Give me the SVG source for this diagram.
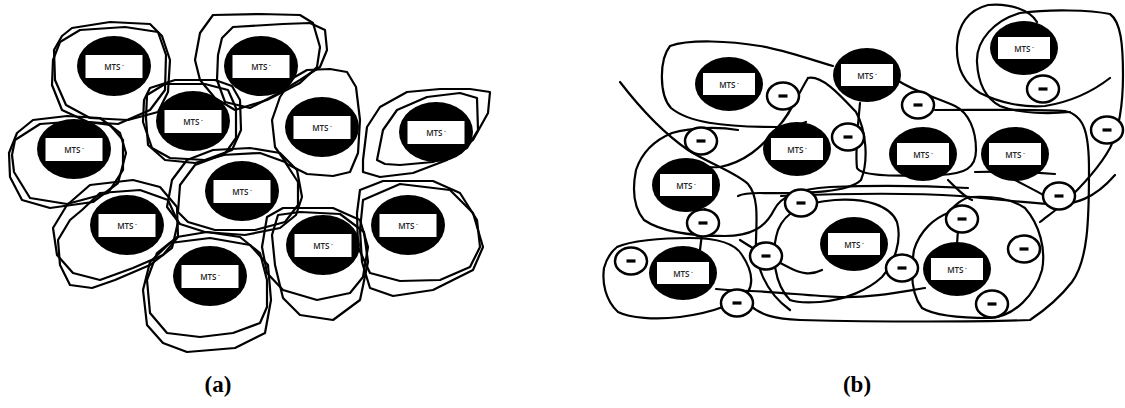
<svg xmlns="http://www.w3.org/2000/svg" width="1125" height="408" viewBox="0 0 1125 408">
<style>
.ln{fill:none;stroke:#000;stroke-width:2.2;stroke-linejoin:round;stroke-linecap:round}
.core{fill:#000}
.box{fill:#fff}
.t{font-family:"Open Sans","Liberation Sans",sans-serif;font-size:8px;font-weight:600;fill:#222;text-anchor:middle}
.sup{font-size:6px}
.an{fill:#fff;stroke:#000;stroke-width:2.5}
.dash{fill:#000}
.lab{font-family:"Liberation Serif",serif;font-size:23px;font-weight:bold;fill:#000;text-anchor:middle}
</style>
<defs>
<g id="mtsA"><ellipse class="core" cx="0" cy="0" rx="37" ry="30"/><rect class="box" x="-28.5" y="-11" width="57" height="23"/><text class="t" x="0" y="3.5">MTS<tspan class="sup" dx="1.5" dy="-2.5">-</tspan></text></g>
<g id="mtsB"><ellipse class="core" cx="0" cy="0" rx="34" ry="27"/><rect class="box" x="-26" y="-11" width="52" height="22"/><text class="t" x="0" y="3.5">MTS<tspan class="sup" dx="1.5" dy="-2.5">-</tspan></text></g>
<g id="anion"><ellipse class="an" cx="0" cy="0" rx="16" ry="13.5"/><rect class="dash" x="-4.5" y="-1.6" width="9" height="3.2"/></g>
</defs>
<rect width="1125" height="408" fill="#fff"/>

<g id="connectors">
<g id="outlines-a">
<polygon class="ln" points="72,28 110,22 150,24 162,36 170,60 168,92 158,112 128,120 90,118 66,105 55,80 54,50 62,36"/>
<polygon class="ln" points="60,42 80,30 125,27 158,32 166,55 165,90 150,110 118,124 88,122 62,110 52,85 53,60"/>
<polygon class="ln" points="213,15 260,14 300,15 313,23 320,47 317,67 300,83 267,100 235,110 215,98 200,80 195,60 200,33"/>
<polygon class="ln" points="233,27 283,24 310,23 325,30 327,50 320,67 300,80 275,95 250,108 225,102 217,80 218,55 222,38"/>
<polygon class="ln" points="150,88 175,80 215,80 232,86 240,100 241,130 232,150 205,160 170,158 152,148 143,122 144,100"/>
<polygon class="ln" points="147,95 165,84 205,84 228,90 236,108 236,138 224,155 195,163 165,160 148,145 146,118"/>
<polygon class="ln" points="307,70 330,69 347,72 356,87 360,120 358,153 350,172 333,176 307,174 287,164 275,147 272,120 280,97 293,78"/>
<polygon class="ln" points="363,160 367,127 380,107 407,92 440,89 470,89 490,92 488,113 473,140 447,160 413,173 380,177 363,172"/>
<polygon class="ln" points="377,160 383,130 397,110 427,97 460,93 477,98 478,130 467,148 433,162 400,165 385,164"/>
<polygon class="ln" points="17,133 33,120 67,116 100,118 120,133 126,153 118,183 93,202 50,208 22,200 10,177 9,153"/>
<polygon class="ln" points="15,140 40,124 80,121 110,125 123,140 123,170 108,193 67,204 30,198 14,172 12,155"/>
<polygon class="ln" points="167,207 172,180 187,160 213,150 250,148 280,153 297,170 302,197 296,215 280,228 245,235 205,232 180,224"/>
<polygon class="ln" points="178,212 180,185 195,165 222,155 260,153 285,162 298,182 298,205 285,222 255,230 215,230 188,222"/>
<polygon class="ln" points="67,205 90,185 133,180 160,187 177,207 178,237 163,255 133,268 100,280 73,273 57,255 53,228"/>
<polygon class="ln" points="82,210 100,193 140,190 168,200 178,222 172,248 150,265 115,280 92,288 70,285 60,265 58,240 70,220"/>
<polygon class="ln" points="150,313 147,280 157,253 177,237 207,232 240,237 260,253 267,280 267,307 260,323 233,333 200,337 167,333"/>
<polygon class="ln" points="143,290 150,262 170,243 210,238 250,245 268,265 271,300 265,333 235,348 187,352 163,343 147,325"/>
<polygon class="ln" points="262,247 267,217 283,208 333,208 360,220 368,247 363,277 350,293 317,300 283,290 267,273"/>
<polygon class="ln" points="272,235 278,215 300,212 340,214 364,232 368,262 360,300 333,320 300,315 283,298 275,265"/>
<polygon class="ln" points="357,213 360,190 383,181 433,181 460,193 477,220 480,247 470,267 440,280 400,281 370,273 358,247"/>
<polygon class="ln" points="363,200 400,184 450,190 473,213 483,247 473,270 433,290 393,296 370,288 362,262 360,230"/>
</g>
<g id="outlines-b">
<path class="ln" d="M620,82 C640,108 662,132 688,150 C710,164 735,172 748,184 C758,196 757,215 756,240 C755,265 765,292 790,310"/>
<path class="ln" d="M833,66 C805,58 785,50 760,46 C730,41 690,39 670,46 C659,60 659,95 671,108 C688,122 720,127 777,127 C790,127 800,125 806,122"/>
<path class="ln" d="M808,78 C796,98 790,115 777,128 C762,147 745,162 720,167 C705,168 695,166 690,165"/>
<path class="ln" d="M808,78 C822,75 840,95 856,112 C866,130 869,160 861,180 C849,192 810,194 760,193 C748,193 742,194 738,196"/>
<path class="ln" d="M738,130 C715,126 690,128 672,133 C655,140 642,152 636,170 C632,190 634,208 644,220 C660,231 690,236 725,236 C750,236 765,228 774,210 C781,196 798,189 830,187 C880,185 930,186 968,188"/>
<path class="ln" d="M860,103 C858,125 855,150 857,168 C862,177 900,176 940,175 C965,174 976,168 976,150 C976,130 969,113 955,106 C935,97 915,92 897,80"/>
<path class="ln" d="M935,110 C980,110 1040,109 1065,111 C1085,115 1089,135 1089,170 C1089,220 1088,260 1072,282 C1058,300 1042,312 1030,320 C980,322 880,322 800,320 C775,319 760,315 750,305"/>
<path class="ln" d="M1037,22 C1030,10 1010,3 988,5 C968,10 958,25 957,45 C956,65 962,82 980,93 C1000,103 1025,108 1045,106 C1070,102 1092,92 1110,78"/>
<path class="ln" d="M977,62 C976,40 995,20 1020,13 C1050,9 1090,10 1110,14 C1121,22 1123,45 1123,75 C1123,105 1119,130 1110,148 C1098,170 1078,190 1062,205 C1052,213 1045,218 1040,222"/>
<path class="ln" d="M977,62 C978,82 985,98 1000,106 C1020,114 1050,114 1070,112"/>
<path class="ln" d="M975,172 C1000,171 1030,172 1055,174"/>
<path class="ln" d="M948,213 C935,218 920,230 914,250 C910,275 912,295 922,308 C935,316 960,318 990,318 C1015,316 1035,295 1042,270 C1046,250 1040,225 1025,208 C1010,198 990,196 972,197 C962,198 955,205 948,213"/>
<path class="ln" d="M958,230 L957,244"/>
<path class="ln" d="M617,247 C630,241 660,238 690,238 C715,238 735,243 742,255 C750,267 755,280 748,292 C735,305 710,313 680,317 C655,320 630,318 618,312 C605,300 602,282 604,268 C607,257 612,251 617,247"/>
<path class="ln" d="M705,209 L700,250"/>
<path class="ln" d="M925,288 C900,292 870,298 840,297 C810,296 780,292 750,291 C735,291 725,290 716,289"/>
<path class="ln" d="M790,300 C775,285 770,255 778,230 C785,212 805,202 835,200 C865,198 890,205 897,222 C902,240 895,262 882,277 C868,290 845,300 820,302 C805,303 795,302 790,300"/>
<path class="ln" d="M740,240 C755,250 770,258 790,268 C800,273 810,276 822,270"/>
<path class="ln" d="M1015,180 C1030,188 1045,195 1060,205"/>
<path class="ln" d="M948,180 C958,190 965,197 972,200"/>
<path class="ln" d="M781,196 C830,194 900,192 960,196 C990,199 1020,202 1050,204 C1075,206 1095,198 1115,175"/>
</g>
</g>

<g id="node-a1"><use href="#mtsA" x="114" y="66"/></g>
<g id="node-a2"><use href="#mtsA" x="261" y="66"/></g>
<g id="node-a3"><use href="#mtsA" x="193" y="121"/></g>
<g id="node-a4"><use href="#mtsA" x="322" y="127"/></g>
<g id="node-a5"><use href="#mtsA" x="436" y="132"/></g>
<g id="node-a6"><use href="#mtsA" x="74" y="149"/></g>
<g id="node-a7"><use href="#mtsA" x="242" y="191"/></g>
<g id="node-a8"><use href="#mtsA" x="127" y="225"/></g>
<g id="node-a9"><use href="#mtsA" x="210" y="276"/></g>
<g id="node-a10"><use href="#mtsA" x="323" y="245"/></g>
<g id="node-a11"><use href="#mtsA" x="408" y="225"/></g>

<g id="node-b1"><use href="#mtsB" x="729" y="84"/></g>
<g id="node-b2"><use href="#mtsB" x="867" y="75"/></g>
<g id="node-b3"><use href="#mtsB" x="1024" y="48"/></g>
<g id="node-b4"><use href="#mtsB" x="797" y="149"/></g>
<g id="node-b5"><use href="#mtsB" x="923" y="154"/></g>
<g id="node-b6"><use href="#mtsB" x="1015" y="154"/></g>
<g id="node-b7"><use href="#mtsB" x="686" y="185"/></g>
<g id="node-b8"><use href="#mtsB" x="683" y="273"/></g>
<g id="node-b9"><use href="#mtsB" x="854" y="244"/></g>
<g id="node-b10"><use href="#mtsB" x="957" y="269"/></g>

<g id="anion-1"><use href="#anion" x="783" y="96"/></g>
<g id="anion-2"><use href="#anion" x="918" y="105"/></g>
<g id="anion-3"><use href="#anion" x="1043" y="89"/></g>
<g id="anion-4"><use href="#anion" x="701" y="141"/></g>
<g id="anion-5"><use href="#anion" x="848" y="137"/></g>
<g id="anion-6"><use href="#anion" x="1107" y="130"/></g>
<g id="anion-7"><use href="#anion" x="1059" y="196"/></g>
<g id="anion-8"><use href="#anion" x="801" y="203"/></g>
<g id="anion-9"><use href="#anion" x="703" y="223"/></g>
<g id="anion-10"><use href="#anion" x="962" y="219"/></g>
<g id="anion-11"><use href="#anion" x="631" y="261"/></g>
<g id="anion-12"><use href="#anion" x="766" y="256"/></g>
<g id="anion-13"><use href="#anion" x="1024" y="249"/></g>
<g id="anion-14"><use href="#anion" x="902" y="268"/></g>
<g id="anion-15"><use href="#anion" x="737" y="303"/></g>
<g id="anion-16"><use href="#anion" x="992" y="304"/></g>

<text class="lab" x="218" y="392">(a)</text>
<text class="lab" x="857" y="392">(b)</text>
</svg>
